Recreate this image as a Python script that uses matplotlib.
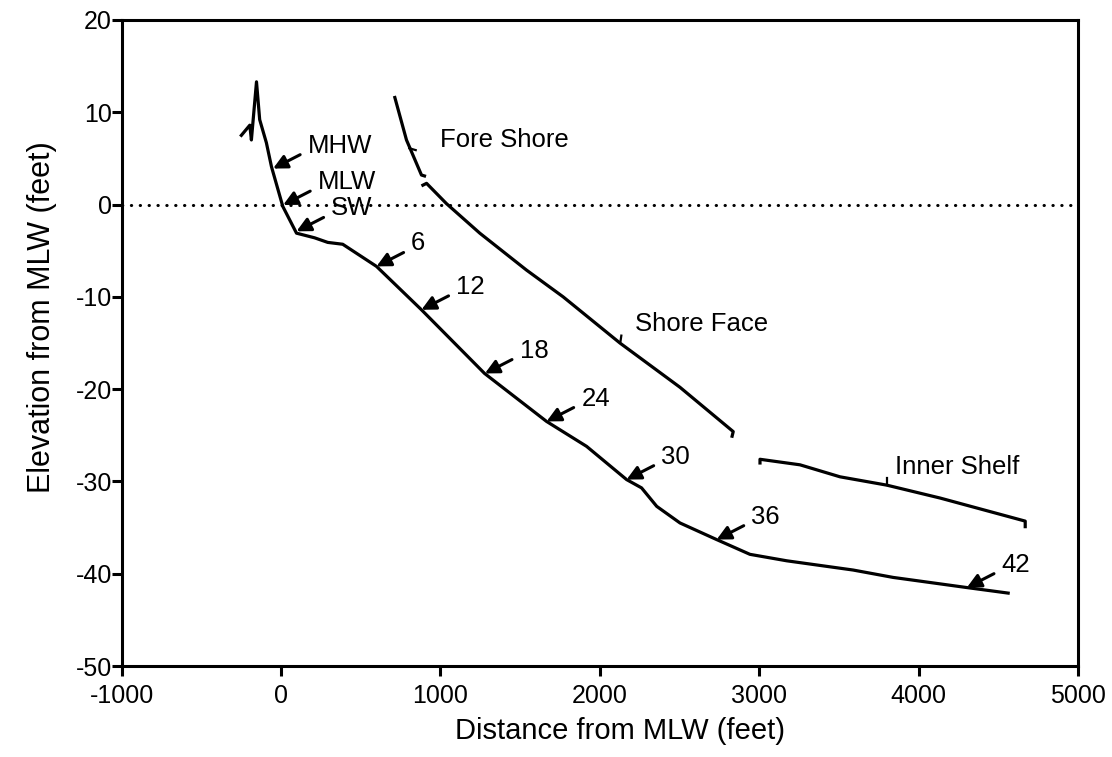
import matplotlib
matplotlib.use("Agg")
import matplotlib.pyplot as plt

plt.rcParams["font.family"] = ["Liberation Sans", "DejaVu Sans"]
plt.rcParams["axes.unicode_minus"] = False

# beach profile (distance ft, elevation ft)
profile_x = [-249, -196, -186, -154, -134, -92, -60, 11, 97, 210, 293, 387, 599, 881,
             1277, 1666, 1917, 2168, 2262, 2357, 2503, 2733, 2942, 3173, 3589, 3840,
             4303, 4562]
profile_y = [7.5, 8.6, 7.0, 13.3, 9.2, 6.7, 4.1, -0.2, -3.1, -3.6, -4.1, -4.3, -6.7,
             -11.4, -18.3, -23.5, -26.2, -29.8, -30.7, -32.7, -34.5, -36.3, -37.9,
             -38.6, -39.6, -40.4, -41.5, -42.1]

# fore shore / shore face / inner shelf segments (with the small end hooks)
fore_x = [714, 787, 881, 900]
fore_y = [11.6, 7.0, 3.2, 3.1]
face_x = [890, 913, 1038, 1247, 1540, 1770, 2126, 2503, 2837, 2830]
face_y = [2.1, 2.3, 0.1, -3.1, -7.1, -10.0, -15.0, -19.8, -24.6, -25.1]
shelf_x = [3005, 3005, 3256, 3507, 3800, 4135, 4669, 4669]
shelf_y = [-28.0, -27.6, -28.2, -29.5, -30.4, -31.8, -34.3, -34.9]

# little tick marks on the zone lines
tick_x0 = [805, 2130, 3800]
tick_y0 = [6.1, -14.8, -30.4]
tick_x1 = [845, 2135, 3800]
tick_y1 = [5.9, -14.2, -29.6]

# arrow labels and the point each arrow touches
mark_labels = ["MHW", "MLW", "SW", "6", "12", "18", "24", "30", "36", "42"]
mark_x = [-50, 13, 97, 599, 881, 1279, 1666, 2168, 2733, 4303]
mark_y = [3.9, -0.05, -2.9, -6.7, -11.4, -18.3, -23.5, -29.8, -36.3, -41.5]

zone_labels = ["Fore Shore", "Shore Face", "Inner Shelf"]
zone_x = [996, 2220, 3853]
zone_y = [7.0, -12.9, -28.4]

xticks = [-1000, 0, 1000, 2000, 3000, 4000, 5000]
yticks = [20, 10, 0, -10, -20, -30, -40, -50]

fig = plt.figure(figsize=(11.12, 7.57), dpi=100)
ax = fig.add_axes([0.1094, 0.1202, 0.86, 0.8534])

ax.axhline(0, color="black", lw=2.2, linestyle=(0, (0.1, 2.8)),
           dash_capstyle="round")

line_kw = dict(color="black", lw=2.3, solid_joinstyle="round")
ax.plot(profile_x, profile_y, **line_kw)
ax.plot(fore_x, fore_y, **line_kw)
ax.plot(face_x, face_y, **line_kw)
ax.plot(shelf_x, shelf_y, **line_kw)
for x0, y0, x1, y1 in zip(tick_x0, tick_y0, tick_x1, tick_y1):
    ax.plot([x0, x1], [y0, y1], color="black", lw=1.6)

for lab, x, y in zip(mark_labels, mark_x, mark_y):
    ax.annotate("", xy=(x, y), xytext=(19.5, 10), textcoords="offset points",
                arrowprops=dict(arrowstyle="-|>", color="black", lw=2.2,
                                mutation_scale=21, shrinkA=0, shrinkB=0))
    ax.annotate(lab, xy=(x, y), xytext=(25, 16.5), textcoords="offset points",
                ha="left", va="center", fontsize=18.5)

for lab, x, y in zip(zone_labels, zone_x, zone_y):
    ax.text(x, y, lab, ha="left", va="center", fontsize=18.5)

ax.set_xlim(-1000, 5000)
ax.set_ylim(-50, 20)
ax.set_xticks(xticks)
ax.set_yticks(yticks)
ax.tick_params(direction="out", length=7, width=2.2, labelsize=18)
ax.tick_params(axis="y", pad=0)
ax.tick_params(axis="x", pad=6)
for s in ax.spines.values():
    s.set_linewidth(2.2)

ax.set_xlabel("Distance from MLW (feet)", fontsize=21)
ax.set_ylabel("Elevation from MLW (feet)", fontsize=22)
ax.xaxis.set_label_coords(0.521, -0.079)
ax.yaxis.set_label_coords(-0.068, 0.54)

fig.savefig("out.png", dpi=100)
